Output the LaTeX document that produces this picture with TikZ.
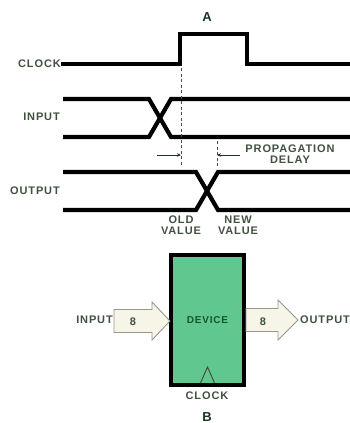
\documentclass[tikz,border=0pt]{standalone}
\usepackage{fontspec}
\newfontfamily\lblfont{Liberation Sans}[LetterSpace=8]
\usetikzlibrary{calc,arrows.meta}
\definecolor{inkgray}{RGB}{66,80,66}
\definecolor{inkgreen}{RGB}{26,52,32}
\definecolor{devgreen}{RGB}{96,200,142}
\definecolor{devtext}{RGB}{22,84,44}
\definecolor{creamfill}{RGB}{246,245,232}
\definecolor{arrowedge}{RGB}{150,152,140}

\begin{document}
\begin{tikzpicture}[x=1pt,y=-1pt,
  wave/.style={line width=4.2pt},
  lbl/.style={font=\lblfont\bfseries\fontsize{11}{11}\selectfont, text=inkgray, inner sep=0pt, align=center},
  ttl/.style={font=\lblfont\bfseries\fontsize{13}{13}\selectfont, text=inkgreen, inner sep=0pt},
  guide/.style={inkgray, line width=0.8pt, dash pattern=on 3pt off 2.5pt},
  delay/.style={inkgreen, line width=0.9pt, -{Stealth[length=4pt,width=3.5pt]}},
  fatarrow/.style={fill=creamfill, draw=arrowedge, line width=0.9pt, line join=miter}]
\useasboundingbox (0,0) rectangle (350,423);

\node[ttl] (titleA) at (207,17) {A};

% timing diagram
\node[lbl, anchor=east] (clk) at (61,64) {CLOCK};
\node[lbl, anchor=east] (inp) at (60,117) {INPUT};
\node[lbl, anchor=east] (outp) at (60,191) {OUTPUT};

\draw[wave] (clk.east) -- (180,64) -- (180,34) -- (247,34) -- (247,64) -- (350,64);
\draw[wave] (63,99) -- (149,99) -- (171,137) -- (350,137);
\draw[wave] (63,137) -- (149,137) -- (171,99) -- (350,99);
\draw[wave] (63,172) -- (196,172) -- (218,210) -- (350,210);
\draw[wave] (63,210) -- (196,210) -- (218,172) -- (350,172);

\coordinate (t0) at (181,155);
\coordinate (t1) at (217,155);
\draw[guide] (181,68) -- (181,166);
\draw[guide] (217,141) -- (217,166);
\draw[delay] ($(t0)+(-24,0)$) -- (t0);
\draw[delay] ($(t1)+(23,0)$) -- (t1);
\node[lbl] (prop) at (290,154) {PROPAGATION\\[0.5pt]DELAY};

\node[lbl] (oldv) at (181,225) {OLD\\VALUE};
\node[lbl] (newv) at (238,225) {NEW\\VALUE};

% block diagram
\node[draw=black, line width=4pt, fill=devgreen, minimum width=73pt, minimum height=130pt,
  font=\lblfont\bfseries\fontsize{10}{10}\selectfont, text=devtext] (dev) at (207.5,320) {DEVICE};
\draw[inkgray, line width=1pt] ($(dev.south)+(-7,-4)$) -- ++(7,-16) -- ++(7,16);

\draw[fatarrow] ($(dev.west)+(1,1)$) -- ++(-18,-19) -- ++(0,7.5) -- ++(-38,0) -- ++(0,23)
  -- ++(38,0) -- ++(0,7.5) -- cycle;
\draw[fatarrow] ($(dev.east)+(52,0)$) -- ++(-20,-20) -- ++(0,8.5) -- ++(-32,0) -- ++(0,23)
  -- ++(32,0) -- ++(0,8.5) -- cycle;

\node[lbl] (inw) at (133,322) {8};
\node[lbl] (outw) at (263,322) {8};
\node[lbl, anchor=east] (inlbl) at (113,320) {INPUT};
\node[lbl, anchor=west] (outlbl) at (300,320) {OUTPUT};
\node[lbl] (clklbl) at (207,396) {CLOCK};

\node[ttl] (titleB) at (207,417) {B};
\end{tikzpicture}
\end{document}
